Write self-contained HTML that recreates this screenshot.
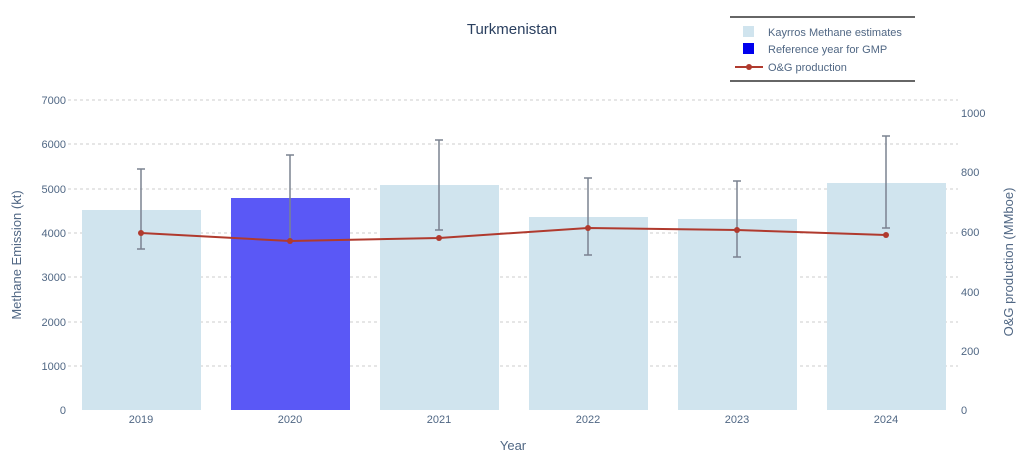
<!DOCTYPE html>
<html><head><meta charset="utf-8"><style>body{margin:0;background:#fff}svg{display:block;font-family:"Liberation Sans",sans-serif}</style></head><body>
<svg width="1024" height="470" viewBox="0 0 1024 470">
<text x="512" y="34" text-anchor="middle" font-size="15" fill="#2a3f5f">Turkmenistan</text>
<g stroke="#ccc" stroke-dasharray="3,3" stroke-width="1">
<line x1="68" x2="958" y1="100" y2="100"/><line x1="68" x2="958" y1="144" y2="144"/><line x1="68" x2="958" y1="189" y2="189"/><line x1="68" x2="958" y1="233" y2="233"/><line x1="68" x2="958" y1="277" y2="277"/><line x1="68" x2="958" y1="322" y2="322"/><line x1="68" x2="958" y1="366" y2="366"/>
</g>
<g font-size="11" fill="#506784" text-anchor="end">
<text x="66" y="104">7000</text><text x="66" y="148">6000</text><text x="66" y="193">5000</text><text x="66" y="237">4000</text><text x="66" y="281">3000</text><text x="66" y="326">2000</text><text x="66" y="370">1000</text><text x="66" y="414">0</text>
</g>
<g font-size="11" fill="#506784">
<text x="961" y="117">1000</text><text x="961" y="176">800</text><text x="961" y="236">600</text><text x="961" y="296">400</text><text x="961" y="355">200</text><text x="961" y="414">0</text>
</g>
<g fill="#d0e4ee">
<rect x="82" y="210" width="119" height="200"/><rect x="380" y="185" width="119" height="225"/><rect x="529" y="217" width="119" height="193"/><rect x="678" y="219" width="119" height="191"/><rect x="827" y="183" width="119" height="227"/>
</g>
<rect x="231" y="198" width="119" height="212" fill="#5a58f6"/>
<g stroke="#7a8290" stroke-width="1.5">
<line x1="141" x2="141" y1="169" y2="249"/><line x1="137" x2="145" y1="169" y2="169"/><line x1="137" x2="145" y1="249" y2="249"/>
<line x1="290" x2="290" y1="155" y2="242"/><line x1="286" x2="294" y1="155" y2="155"/>
<line x1="439" x2="439" y1="140" y2="230"/><line x1="435" x2="443" y1="140" y2="140"/><line x1="435" x2="443" y1="230" y2="230"/>
<line x1="588" x2="588" y1="178" y2="255"/><line x1="584" x2="592" y1="178" y2="178"/><line x1="584" x2="592" y1="255" y2="255"/>
<line x1="737" x2="737" y1="181" y2="257"/><line x1="733" x2="741" y1="181" y2="181"/><line x1="733" x2="741" y1="257" y2="257"/>
<line x1="886" x2="886" y1="136" y2="228"/><line x1="882" x2="890" y1="136" y2="136"/><line x1="882" x2="890" y1="228" y2="228"/>
</g>
<polyline points="141,233 290,241 439,238 588,228 737,230 886,235" fill="none" stroke="#b03a2e" stroke-width="2"/>
<g fill="#b03a2e"><circle cx="141" cy="233" r="3"/><circle cx="290" cy="241" r="3"/><circle cx="439" cy="238" r="3"/><circle cx="588" cy="228" r="3"/><circle cx="737" cy="230" r="3"/><circle cx="886" cy="235" r="3"/></g>
<g font-size="11" fill="#506784" text-anchor="middle">
<text x="141" y="423">2019</text><text x="290" y="423">2020</text><text x="439" y="423">2021</text><text x="588" y="423">2022</text><text x="737" y="423">2023</text><text x="886" y="423">2024</text>
</g>
<text x="513" y="450" text-anchor="middle" font-size="13" fill="#506784">Year</text>
<text transform="translate(21,255) rotate(-90)" text-anchor="middle" font-size="13" fill="#506784">Methane Emission (kt)</text>
<text transform="translate(1013,262) rotate(-90)" text-anchor="middle" font-size="13" fill="#506784">O&amp;G production (MMboe)</text>
<line x1="730" x2="915" y1="17" y2="17" stroke="#333" stroke-width="1.5"/>
<line x1="730" x2="915" y1="81" y2="81" stroke="#333" stroke-width="1.5"/>
<rect x="743" y="26" width="11" height="11" fill="#d0e4ee"/>
<rect x="743" y="43" width="11" height="11" fill="#0000ee"/>
<line x1="735" x2="763" y1="67" y2="67" stroke="#b03a2e" stroke-width="2"/><circle cx="749" cy="67" r="3" fill="#b03a2e"/>
<g font-size="11" fill="#506784"><text x="768" y="36">Kayrros Methane estimates</text><text x="768" y="53">Reference year for GMP</text><text x="768" y="71">O&amp;G production</text></g>
</svg>
</body></html>
